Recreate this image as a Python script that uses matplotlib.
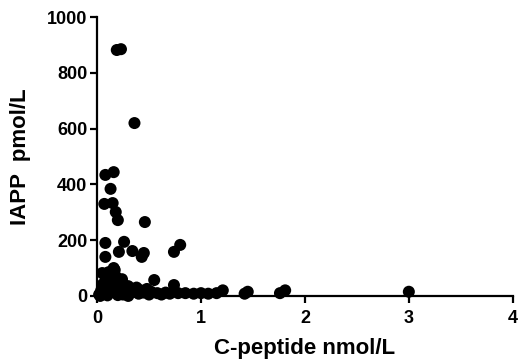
import matplotlib.pyplot as plt

# C-peptide (nmol/L) vs IAPP (pmol/L)
c_peptide = [
    0.19, 0.23, 0.36,
    0.08, 0.16, 0.13, 0.07, 0.15, 0.18, 0.20, 0.46,
    0.08, 0.08, 0.05, 0.21, 0.26, 0.34, 0.43, 0.45, 0.74, 0.80,
    0.17, 0.55, 0.74,
    0.02, 0.04, 0.05, 0.06, 0.08, 0.10, 0.12, 0.14, 0.15, 0.18,
    0.20, 0.22, 0.24, 0.26, 0.28, 0.30, 0.32, 0.34, 0.36, 0.38,
    0.40, 0.42, 0.45, 0.48, 0.50, 0.52, 0.58, 0.62, 0.66, 0.70,
    0.78, 0.03, 0.10, 0.20, 0.25, 0.30, 0.12, 0.16, 0.11,
    0.85, 0.93, 1.00, 1.07, 1.15, 1.21, 1.42, 1.45, 1.76, 1.81, 3.00,
]
iapp = [
    882, 885, 620,
    434, 444, 384, 330, 333, 301, 272, 265,
    190, 140, 82, 158, 194, 161, 140, 154, 158, 183,
    93, 57, 39,
    5, 20, 40, 10, 55, 30, 65, 45, 15, 70,
    50, 30, 60, 40, 20, 35, 10, 25, 15, 30,
    8, 20, 12, 25, 5, 15, 10, 5, 12, 8,
    10, 0, 2, 3, 5, 0, 25, 100, 85,
    10, 8, 10, 8, 10, 20, 8, 15, 10, 20, 15,
]

plt.rcParams['font.family'] = ['Liberation Sans', 'DejaVu Sans']

fig = plt.figure(figsize=(5.19, 3.64), dpi=100)
ax = fig.add_axes([0.187, 0.187, 0.801, 0.766])

ax.scatter(c_peptide, iapp, s=75, color='black', edgecolors='none', clip_on=False, zorder=3)

ax.set_xlim(0, 4)
ax.set_ylim(0, 1000)
ax.set_xticks([0, 1, 2, 3, 4])
ax.set_yticks([0, 200, 400, 600, 800, 1000])

for side in ['top', 'right']:
    ax.spines[side].set_visible(False)
for side in ['left', 'bottom']:
    ax.spines[side].set_linewidth(1.6)

ax.tick_params(width=1.6, length=5, labelsize=13)
ax.tick_params(axis='x', pad=5)
ax.tick_params(axis='y', pad=2)
for lbl in ax.get_xticklabels() + ax.get_yticklabels():
    lbl.set_fontweight('bold')

ax.set_xlabel('C-peptide nmol/L', fontsize=16, fontweight='bold')
ax.set_ylabel('IAPP  pmol/L', fontsize=16, fontweight='bold')
ax.xaxis.set_label_coords(0.5, -0.19)
ax.yaxis.set_label_coords(-0.183, 0.5)
for lab in (ax.xaxis.label, ax.yaxis.label):
    lab.set_horizontalalignment('center')
    lab.set_verticalalignment('center')

fig.savefig('out.png', dpi=100)
